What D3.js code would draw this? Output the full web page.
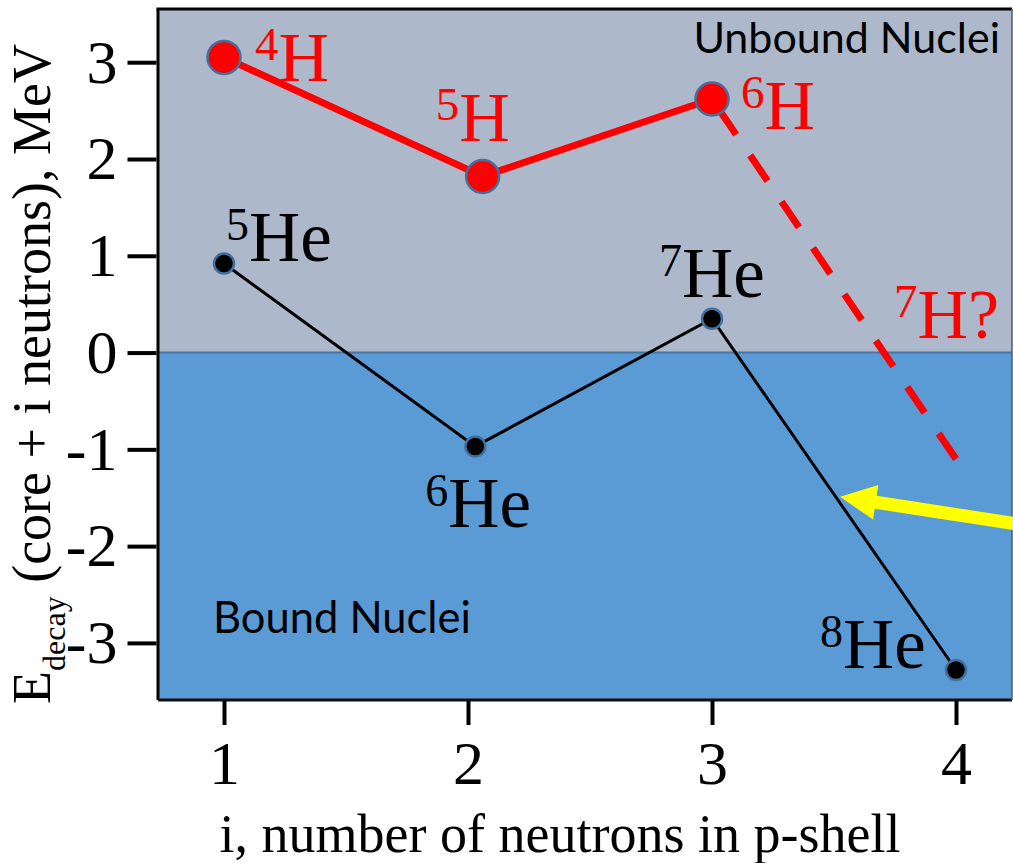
<!DOCTYPE html>
<html>
<head>
<meta charset="utf-8">
<script src="https://cdn.jsdelivr.net/npm/d3@7/dist/d3.min.js"></script>
<style>
  html, body { margin: 0; padding: 0; background: #ffffff; }
  svg { display: block; }
</style>
</head>
<body>
<svg id="chart" width="1013" height="863"></svg>
<script>
// Decay energies of light nuclei vs. number of p-shell neutrons
const hNeutrons = [1.0, 2.06, 3.0];
const hEnergy = [3.05, 1.82, 2.62];
const hNames = [["4", "H"], ["5", "H"], ["6", "H"]];

// speculative extension to 7H
const h7Neutrons = [3.0, 4.0];
const h7Energy = [2.62, -1.1];
const h7Name = ["7", "H?"];

const heNeutrons = [1.0, 2.03, 3.0, 4.0];
const heEnergy = [0.92, -0.97, 0.35, -3.28];
const heNames = [["5", "He"], ["6", "He"], ["7", "He"], ["8", "He"]];

const xTicks = [1, 2, 3, 4];
const yTicks = [-3, -2, -1, 0, 1, 2, 3];

// arrow annotation pointing at the 7He -> 8He segment (tip, tail)
const arrowTip = [3.525, -1.49];
const arrowTail = [4.3, -1.79];

const SERIF = "'Liberation Serif', 'Times New Roman', serif";
const SANS = "Lato, 'Open Sans', sans-serif";

const svg = d3.select("#chart");
const plot = { left: 158, right: 1012, top: 9, bottom: 700 };

const x = d3.scaleLinear().domain([0.7295, 4.2295]).range([plot.left, plot.right]);
const y = d3.scaleLinear().domain([-3.59, 3.55]).range([plot.bottom, plot.top]);

// background regions
svg.append("rect")
  .attr("x", plot.left).attr("y", plot.top)
  .attr("width", plot.right - plot.left).attr("height", y(0) - plot.top)
  .attr("fill", "#ADB9CA");
svg.append("rect")
  .attr("x", plot.left).attr("y", y(0))
  .attr("width", plot.right - plot.left).attr("height", plot.bottom - y(0))
  .attr("fill", "#5B9BD5");
svg.append("line")
  .attr("x1", plot.left).attr("x2", plot.right)
  .attr("y1", y(0)).attr("y2", y(0))
  .attr("stroke", "#4A74A0").attr("stroke-width", 2);

// region captions
svg.append("text").attr("font-family", SANS)
  .attr("x", 1000).attr("y", 53).attr("text-anchor", "end")
  .attr("font-size", 43).attr("fill", "#000")
  .text("Unbound Nuclei");
svg.append("text").attr("font-family", SANS)
  .attr("x", 213).attr("y", 633)
  .attr("font-size", 43.5).attr("fill", "#000")
  .text("Bound Nuclei");

// frame
svg.append("line").attr("x1", plot.left - 1.5).attr("x2", plot.right)
  .attr("y1", plot.top).attr("y2", plot.top)
  .attr("stroke", "#000").attr("stroke-width", 3);
svg.append("line").attr("x1", plot.left).attr("x2", plot.left)
  .attr("y1", plot.top).attr("y2", plot.bottom)
  .attr("stroke", "#000").attr("stroke-width", 3);
svg.append("line").attr("x1", plot.left).attr("x2", plot.right)
  .attr("y1", plot.bottom).attr("y2", plot.bottom)
  .attr("stroke", "#111").attr("stroke-width", 3);
svg.append("line").attr("x1", plot.right).attr("x2", plot.right)
  .attr("y1", plot.top).attr("y2", plot.bottom)
  .attr("stroke", "#3D5F85").attr("stroke-width", 1.5);

// axes
const yAxis = svg.append("g")
  .attr("transform", `translate(${plot.left - 1.5},0)`)
  .call(d3.axisLeft(y).tickValues(yTicks).tickSize(29).tickPadding(10).tickFormat(d3.format("d")));
const xAxis = svg.append("g")
  .attr("transform", `translate(0,${plot.bottom + 1})`)
  .call(d3.axisBottom(x).tickValues(xTicks).tickSize(24).tickPadding(15).tickFormat(d3.format("d")));
[yAxis, xAxis].forEach(g => {
  g.attr("font-family", SERIF).attr("font-size", 62);
  g.select(".domain").remove();
  g.selectAll(".tick line").attr("stroke", "#000").attr("stroke-width", 4);
  g.selectAll(".tick text").attr("fill", "#000");
});
yAxis.selectAll(".tick text").text(d => d < 0 ? "-" + Math.abs(d) : String(d));

// axis titles
svg.append("text").attr("font-family", SERIF)
  .attr("x", 560).attr("y", 852).attr("text-anchor", "middle")
  .attr("font-size", 54).attr("fill", "#000")
  .text("i, number of neutrons in p-shell");

const yTitle = svg.append("text").attr("font-family", SERIF)
  .attr("transform", "translate(50,374) rotate(-90)")
  .attr("text-anchor", "middle")
  .attr("font-size", 54).attr("fill", "#000");
yTitle.append("tspan").attr("font-family", SERIF).text("E");
yTitle.append("tspan").attr("font-family", SERIF).attr("font-size", 32).attr("dy", 15).text("decay");
yTitle.append("tspan").attr("font-family", SERIF).attr("dy", -15).text(" (core + i neutrons), MeV");

// helium series
const heData = heNeutrons.map((n, i) => ({ n, e: heEnergy[i], name: heNames[i] }));
svg.append("path")
  .datum(heData)
  .attr("fill", "none").attr("stroke", "#000").attr("stroke-width", 3)
  .attr("d", d3.line().x(d => x(d.n)).y(d => y(d.e)));

// hydrogen series: dashed extrapolation first, then solid line
const h7Data = h7Neutrons.map((n, i) => ({ n, e: h7Energy[i] }));
svg.append("path")
  .datum(h7Data)
  .attr("fill", "none").attr("stroke", "#FF0000").attr("stroke-width", 7)
  .attr("stroke-dasharray", "31 25").attr("stroke-dashoffset", 44)
  .attr("d", d3.line().x(d => x(d.n)).y(d => y(d.e)));

const hData = hNeutrons.map((n, i) => ({ n, e: hEnergy[i], name: hNames[i] }));
svg.append("path")
  .datum(hData)
  .attr("fill", "none").attr("stroke", "#FF0000").attr("stroke-width", 7)
  .attr("stroke-linejoin", "round")
  .attr("d", d3.line().x(d => x(d.n)).y(d => y(d.e)));

// markers
svg.selectAll("circle.he").data(heData).enter().append("circle")
  .attr("class", "he")
  .attr("cx", d => x(d.n)).attr("cy", d => y(d.e)).attr("r", 10)
  .attr("fill", "#000").attr("stroke", "#41719C").attr("stroke-width", 2.5);
svg.selectAll("circle.h").data(hData).enter().append("circle")
  .attr("class", "h")
  .attr("cx", d => x(d.n)).attr("cy", d => y(d.e)).attr("r", 16.5)
  .attr("fill", "#FF0000").attr("stroke", "#41719C").attr("stroke-width", 2.5);

// nuclide labels: offset of label start / baseline from its point
const hLabelOffsets = [[31, 24], [-47, -35], [29, 30]];
const h7LabelOffset = [-62, -121];
const heLabelOffsets = [[2, -3], [-50, 81], [-53, -22], [-136, -2]];

function nuclideLabel(px, py, off, name, color, supSize, mainSize) {
  const t = svg.append("text").attr("font-family", SERIF)
    .attr("x", px + off[0]).attr("y", py + off[1])
    .attr("fill", color);
  t.append("tspan").attr("font-size", supSize).attr("dy", -21).text(name[0]);
  t.append("tspan").attr("font-size", mainSize).attr("dy", 21).text(name[1]);
}

hData.forEach((d, i) => nuclideLabel(x(d.n), y(d.e), hLabelOffsets[i], d.name, "#FF0000", 47, 70));
nuclideLabel(x(h7Neutrons[1]), y(h7Energy[1]), h7LabelOffset, h7Name, "#FF0000", 47, 70);
heData.forEach((d, i) => nuclideLabel(x(d.n), y(d.e), heLabelOffsets[i], d.name, "#000", 46, 71));

// yellow arrow
(function () {
  const tx = x(arrowTip[0]), ty = y(arrowTip[1]);
  const sx = x(arrowTail[0]), sy = y(arrowTail[1]);
  const dx = tx - sx, dy = ty - sy;
  const len = Math.hypot(dx, dy);
  const ux = dx / len, uy = dy / len;
  const px = -uy, py = ux;
  const headLen = 36, headHalf = 17.5, shaftHalf = 6.5;
  const bx = tx - ux * headLen, by = ty - uy * headLen;
  const pts = [
    [sx + px * shaftHalf, sy + py * shaftHalf],
    [bx + px * shaftHalf, by + py * shaftHalf],
    [bx + px * headHalf, by + py * headHalf],
    [tx, ty],
    [bx - px * headHalf, by - py * headHalf],
    [bx - px * shaftHalf, by - py * shaftHalf],
    [sx - px * shaftHalf, sy - py * shaftHalf]
  ];
  svg.append("path")
    .attr("d", "M" + pts.map(p => p.join(",")).join("L") + "Z")
    .attr("fill", "#FFFF00");
})();
</script>
</body>
</html>
